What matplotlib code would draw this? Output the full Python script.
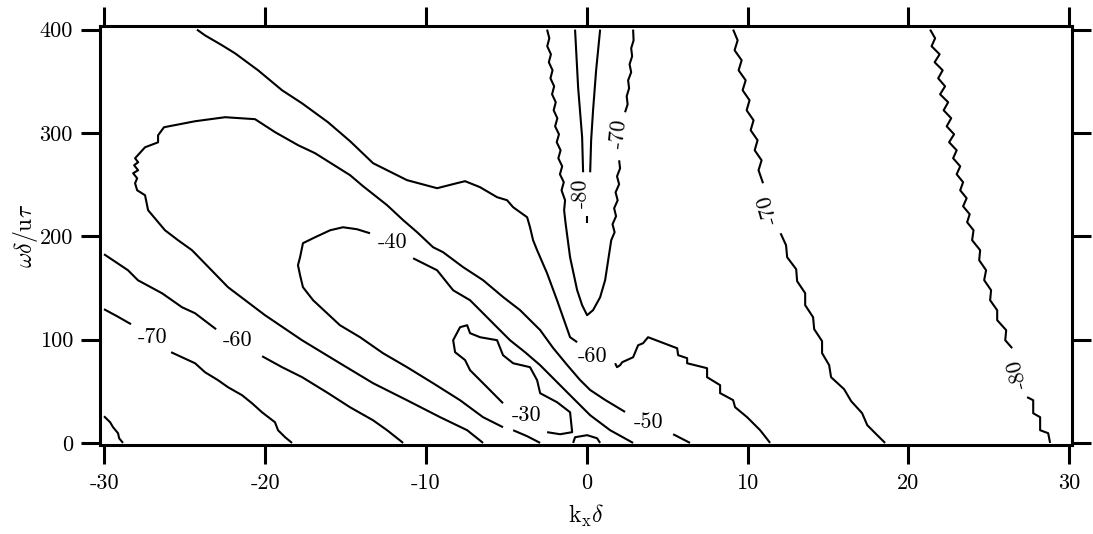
import matplotlib
matplotlib.use("Agg")
import matplotlib.pyplot as plt

plt.rcParams["mathtext.fontset"] = "cm"
plt.rcParams["axes.unicode_minus"] = False

# ---- axis ticks -------------------------------------------------------------
x_ticks = [-30, -20, -10, 0, 10, 20, 30]
x_tick_labels = ["-30", "-20", "-10", "0", "10", "20", "30"]
y_ticks = [0, 100, 200, 300, 400]
y_tick_labels = ["0", "100", "200", "300", "400"]

# ---- contour traces (k_x*delta, omega*delta/u_tau) --------------------------
# level -80, lower-left corner
m80_corner_x = [-30.02, -29.64, -29.46, -29.15, -29.08, -28.84]
m80_corner_y = [25.8, 20.0, 15.2, 9.4, 4.5, 0.0]

# level -70, lower-left
m70_left_a_x = [-30.02, -29.21, -28.34]
m70_left_a_y = [129.4, 122.6, 114.9]
m70_left_b_x = [-25.85, -25.17, -24.36, -23.74, -22.93, -22.31, -21.44, -20.82,
                -20.20, -19.39, -19.20, -18.76, -18.33]
m70_left_b_y = [87.8, 82.9, 77.1, 68.4, 60.7, 53.9, 46.2, 38.4, 29.7, 20.0, 12.3,
                5.5, 0.0]

# level -60, lower-left
m60_left_a_x = [-30.02, -28.53, -27.91, -26.41, -25.17, -24.36, -23.05]
m60_left_a_y = [182.6, 167.1, 157.4, 144.8, 131.3, 125.5, 110.0]
m60_left_b_x = [-20.19, -18.95, -17.70, -16.09, -14.72, -13.29, -12.42, -11.42]
m60_left_b_y = [83.9, 73.3, 63.6, 48.2, 34.5, 21.9, 12.3, 0.0]

# level -60, from the top edge down to the bottom
m60_main_a_x = [-24.24, -23.74, -22.68, -21.87, -20.44, -18.95, -17.71, -16.09,
                -14.72, -13.29, -11.18, -9.31, -8.07, -7.57, -6.64, -5.58,
                -4.96, -4.58, -3.71, -3.53, -3.34, -3.09, -2.47, -1.85, -1.04,
                -0.60]
m60_main_a_y = [400.0, 394.4, 384.8, 377.0, 360.6, 341.3, 328.7, 310.3, 292.0,
                270.7, 254.3, 246.5, 251.4, 253.3, 247.5, 237.8, 234.9, 228.1,
                218.4, 208.7, 196.2, 186.5, 164.2, 138.1, 102.3, 97.5]
m60_main_b_x = [1.76, 1.88, 2.07, 2.20, 2.88, 3.19, 3.50, 3.81, 5.62, 5.68, 6.24,
                6.24, 7.48, 7.48, 8.29, 8.29, 9.10, 9.22, 9.97, 10.78, 11.40]
m60_main_b_y = [77.1, 73.3, 75.2, 78.1, 82.9, 94.5, 96.5, 102.3, 91.6, 84.9,
                82.0, 77.1, 72.3, 63.6, 55.9, 48.2, 41.4, 34.6, 24.9, 12.3, 0.0]

# level -50, the large lobe
m50_a_x = [-6.45, -7.44, -9.12, -11.18, -13.29, -15.35, -17.71, -20.01, -22.31,
           -24.55, -25.42, -26.23, -27.28, -27.47, -27.96, -28.09, -27.96,
           -28.21, -27.90, -28.15, -27.90, -28.09, -27.47, -26.66, -26.66,
           -26.29, -24.36, -22.49, -20.63, -19.38, -17.95, -16.90, -14.72,
           -13.91, -12.42, -11.42, -10.55, -9.56, -8.94, -7.69, -6.45, -5.20,
           -4.15, -2.90, -2.09, -1.22, -0.42, 0.21, 1.14, 2.38]
m50_a_y = [0.0, 12.3, 24.9, 41.3, 57.8, 77.1, 99.4, 123.6, 150.7, 186.5, 196.2,
           205.8, 225.2, 239.7, 244.5, 251.3, 256.1, 261.0, 263.9, 268.7, 271.6,
           275.5, 286.1, 290.9, 297.7, 305.5, 311.3, 315.2, 313.3, 300.7, 288.1,
           280.4, 259.1, 248.4, 230.1, 215.6, 203.9, 189.4, 184.6, 170.1, 157.5,
           141.1, 128.5, 109.2, 91.8, 75.4, 60.9, 51.2, 41.6, 30.0]
m50_b_x = [5.37, 5.86, 6.42]
m50_b_y = [8.4, 4.5, 0.0]

# level -40
m40_a_x = [-4.58, -3.71, -2.90]
m40_a_y = [12.3, 6.5, 0.0]
m40_b_x = [-5.21, -6.45, -7.88, -9.56, -11.18, -12.67, -14.10, -15.35, -16.15,
           -17.02, -17.65, -17.83, -17.96, -17.83, -17.65, -16.90, -15.96,
           -15.16, -14.29, -13.48]
m40_b_y = [15.2, 24.9, 41.3, 57.8, 73.3, 86.8, 102.3, 113.9, 125.5, 138.1, 150.7,
           162.3, 172.0, 179.7, 193.3, 199.0, 205.8, 208.7, 206.8, 202.9]
m40_c_x = [-10.80, -9.31, -8.31, -7.26, -6.45, -5.58, -4.77, -3.84, -2.90, -1.97,
           -1.04, 0.21, 1.45, 2.88]
m40_c_y = [178.7, 167.1, 147.7, 138.1, 125.5, 111.9, 99.3, 87.8, 75.2, 60.7, 46.2,
           26.8, 12.3, 0.0]

# level -30, closed island plus the small arc at the bottom
m30_loop_x = [-5.21, -6.20, -7.26, -7.57, -8.19, -8.31, -7.88, -7.44, -7.26,
              -6.64, -5.58, -5.21, -4.58, -3.53, -3.09, -2.90, -1.85, -1.04,
              -0.91, -1.66, -2.47]
m30_loop_y = [38.4, 53.9, 70.4, 80.2, 87.8, 99.4, 112.0, 113.9, 106.2, 102.3,
              99.4, 84.9, 77.1, 73.3, 60.7, 48.1, 39.4, 29.7, 10.4, 8.4, 10.4]
m30_arc_x = [-0.85, -0.73, 0.02, 0.64, 0.83]
m30_arc_y = [0.0, 5.5, 7.5, 4.5, 0.0]

# level -70, the U around k_x = 0
m70_u_a_x = [-2.47, -2.33, -2.46, -2.23, -2.36, -2.13, -2.26, -2.03, -2.16,
             -1.93, -2.06, -1.83, -1.97, -1.73, -1.87, -1.63, -1.77, -1.53,
             -1.67, -1.43, -1.57, -1.35, -1.41, -1.32, -1.04, -0.60, -0.29,
             0.02, 0.39, 0.83, 1.14, 1.33, 1.52, 1.73, 1.60, 1.82, 1.70, 1.92,
             1.79, 2.01, 1.88, 2.07, 2.01]
m70_u_a_y = [400.0, 391.6, 383.9, 376.1, 368.4, 360.6, 352.9, 345.1, 337.4,
             329.7, 321.9, 314.2, 306.4, 298.7, 291.0, 283.2, 275.5, 267.7,
             260.0, 252.3, 244.5, 234.8, 225.2, 212.6, 179.7, 147.8, 133.3,
             123.6, 128.5, 141.0, 157.5, 176.8, 196.2, 203.9, 211.6, 219.4,
             227.1, 234.8, 242.5, 250.3, 258.0, 265.7, 273.5]
m70_u_b_x = [2.38, 2.54, 2.48, 2.63, 2.57, 2.76, 2.66, 2.82, 2.76, 2.91, 2.88]
m70_u_b_y = [320.0, 327.7, 335.5, 343.2, 350.9, 358.7, 366.4, 374.2, 381.9,
             389.6, 400.0]

# level -80, the narrow U around k_x = 0
m80_u_left_x = [-0.73, -0.54, -0.29, -0.23]
m80_u_left_y = [400.0, 344.2, 295.8, 261.9]
m80_u_right_x = [0.83, 0.58, 0.39, 0.27, 0.21]
m80_u_right_y = [400.0, 360.6, 321.9, 292.9, 261.9]
m80_u_tip_x = [0.02, 0.02]
m80_u_tip_y = [219.4, 212.6]

# level -70, right-hand branch
m70_right_a_x = [9.10, 9.38, 9.19, 9.63, 9.44, 9.88, 9.69, 10.12, 9.94, 10.37,
                 10.19, 10.62, 10.44, 10.87, 10.68, 10.96]
m70_right_a_y = [400.0, 389.6, 380.0, 370.3, 360.6, 350.9, 341.3, 331.6, 321.9,
                 312.2, 302.6, 292.9, 283.2, 273.5, 263.9, 251.3]
m70_right_b_x = [12.05, 12.39, 12.46, 13.02, 13.08, 13.58, 13.58, 14.07, 14.14,
                 14.63, 14.63, 15.07, 15.19, 16.00, 16.44, 17.12, 17.44, 18.06,
                 18.55]
m70_right_b_y = [202.9, 191.3, 179.7, 168.1, 156.5, 144.9, 133.3, 121.7, 110.1,
                 98.5, 86.9, 75.3, 63.6, 52.0, 40.4, 28.8, 17.2, 7.5, 0.0]

# level -80, right-hand branch
m80_right_a_x = [21.35, 21.66, 21.44, 21.94, 21.63, 22.13, 21.85, 22.28, 21.97,
                 22.47, 22.19, 22.66, 22.38, 22.84, 22.53, 23.00, 22.78, 23.22,
                 23.00, 23.40, 23.22, 23.62, 23.40, 23.81, 23.65, 24.05, 23.96,
                 24.46, 24.40, 24.83, 24.71, 25.14, 25.08, 25.52, 25.52, 26.08,
                 26.02, 26.45]
m80_right_a_y = [400.0, 391.6, 383.9, 376.1, 368.4, 360.6, 352.9, 345.1, 337.4,
                 329.7, 321.9, 314.2, 306.4, 298.7, 291.0, 283.2, 275.5, 267.7,
                 260.0, 252.3, 244.5, 236.8, 229.0, 221.3, 213.6, 205.8, 196.2,
                 186.5, 176.8, 167.1, 157.5, 147.8, 138.1, 128.4, 118.8, 109.1,
                 99.4, 91.7]
m80_right_b_x = [27.38, 27.76, 27.76, 28.19, 28.19, 28.69, 28.81]
m80_right_b_y = [44.3, 41.3, 28.7, 24.9, 12.3, 9.4, 0.0]

# ---- in-line contour labels -------------------------------------------------
label_text = ["-70", "-60", "-40", "-30", "-60", "-50", "-80", "-70", "-70", "-80"]
label_x = [-27.03, -21.69, -12.05, -3.77, 0.33, 3.87, -0.35, 1.95, 11.28, 26.76]
label_y = [102.3, 99.4, 194.2, 26.8, 83.9, 20.0, 241.6, 299.7, 226.1, 66.5]
label_rot = [0, 0, 0, 0, 0, 0, 91, 84, 106, 104]

segments = [
    (m80_corner_x, m80_corner_y),
    (m70_left_a_x, m70_left_a_y), (m70_left_b_x, m70_left_b_y),
    (m60_left_a_x, m60_left_a_y), (m60_left_b_x, m60_left_b_y),
    (m60_main_a_x, m60_main_a_y), (m60_main_b_x, m60_main_b_y),
    (m50_a_x, m50_a_y), (m50_b_x, m50_b_y),
    (m40_a_x, m40_a_y), (m40_b_x, m40_b_y), (m40_c_x, m40_c_y),
    (m30_loop_x, m30_loop_y), (m30_arc_x, m30_arc_y),
    (m70_u_a_x, m70_u_a_y), (m70_u_b_x, m70_u_b_y),
    (m80_u_left_x, m80_u_left_y), (m80_u_right_x, m80_u_right_y),
    (m80_u_tip_x, m80_u_tip_y),
    (m70_right_a_x, m70_right_a_y), (m70_right_b_x, m70_right_b_y),
    (m80_right_a_x, m80_right_a_y), (m80_right_b_x, m80_right_b_y),
]

fig = plt.figure(figsize=(10.93, 5.34), dpi=100)
ax = fig.add_axes([0.0915, 0.1667, 0.8897, 0.7837])

for xs, ys in segments:
    ax.plot(xs, ys, color="black", lw=1.5, solid_joinstyle="round",
            solid_capstyle="butt")

for txt, lx, ly, rot in zip(label_text, label_x, label_y, label_rot):
    ax.text(lx, ly, txt, fontfamily="cmr10", fontsize=16, ha="center",
            va="center", rotation=rot, rotation_mode="anchor")

ax.set_xlim(-30.27, 30.2)
ax.set_ylim(-2, 403)

ax.set_xticks(x_ticks)
ax.set_xticklabels(x_tick_labels, fontfamily="cmr10", fontsize=16)
ax.set_yticks(y_ticks)
ax.set_yticklabels(y_tick_labels, fontfamily="cmr10", fontsize=16)

ax.tick_params(which="both", direction="out", length=13.5, width=2.2,
               top=True, right=True, labeltop=False, labelright=False)
ax.tick_params(axis="x", pad=7)
ax.tick_params(axis="y", pad=6)
for sp in ax.spines.values():
    sp.set_linewidth(2.2)

ax.set_xlabel(r"$\mathrm{k_x}\delta$", fontsize=17, labelpad=7)
ax.set_ylabel(r"$\omega\delta/\mathrm{u}\tau$", fontsize=17, labelpad=0)

fig.savefig("out.png", dpi=100)
